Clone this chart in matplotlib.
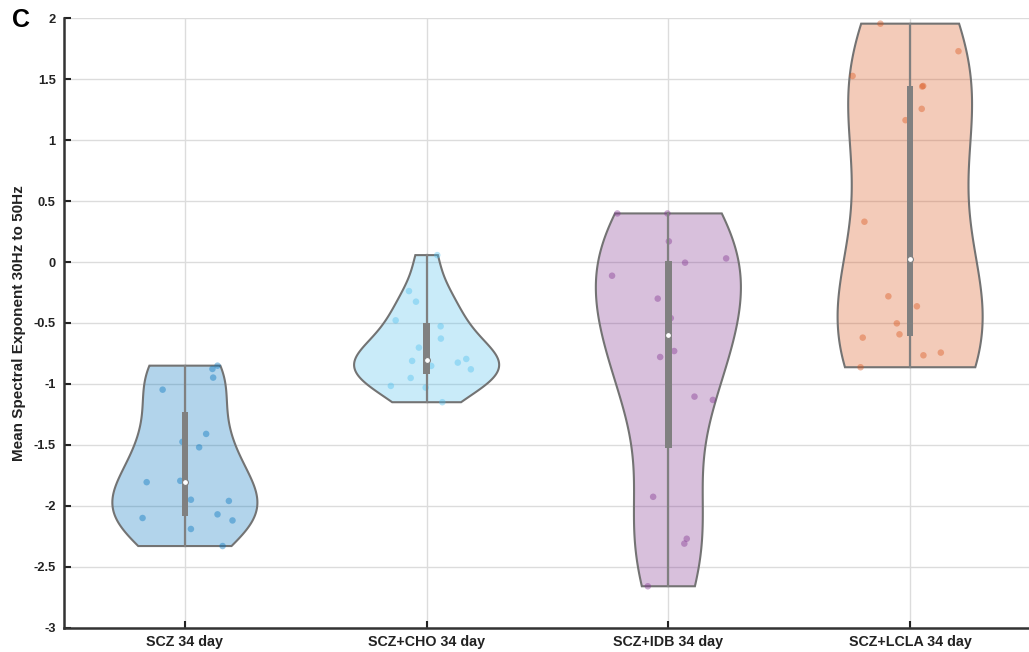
import numpy as np
import matplotlib
matplotlib.use("Agg")
import matplotlib.pyplot as plt
from matplotlib.patches import Rectangle, Polygon

plt.rcParams['font.family'] = ['Liberation Sans', 'DejaVu Sans']

categories = ["SCZ 34 day", "SCZ+CHO 34 day", "SCZ+IDB 34 day", "SCZ+LCLA 34 day"]

scz = [-0.85, -0.877, -0.948, -1.047, -1.41, -1.475, -1.52, -1.795, -1.806,
       -1.95, -1.96, -2.07, -2.10, -2.12, -2.19, -2.33]
scz_cho = [0.057, -0.238, -0.325, -0.478, -0.527, -0.628, -0.702, -0.795, -0.811,
           -0.825, -0.852, -0.880, -0.951, -1.016, -1.03, -1.15]
scz_idb = [0.399, 0.399, 0.17, 0.03, -0.005, -0.112, -0.30, -0.46, -0.73,
           -0.779, -1.104, -1.131, -1.926, -2.27, -2.31, -2.66]
scz_lcla = [1.956, 1.73, 1.527, 1.445, 1.44, 1.257, 1.164, 0.331, -0.281,
            -0.363, -0.503, -0.593, -0.62, -0.743, -0.765, -0.863]

# horizontal jitter of the scatter points (category units)
jit_scz = [0.135, 0.114, 0.117, -0.092, 0.088, -0.010, 0.059, -0.019, -0.158,
           0.025, 0.182, 0.135, -0.175, 0.197, 0.025, 0.156]
jit_cho = [0.044, -0.073, -0.044, -0.128, 0.058, 0.059, -0.032, 0.164, -0.060,
           0.129, 0.019, 0.183, -0.066, -0.148, -0.004, 0.065]
jit_idb = [-0.211, -0.004, 0.002, 0.239, 0.069, -0.233, -0.044, 0.010, 0.024,
           -0.034, 0.108, 0.184, -0.063, 0.076, 0.066, -0.085]
jit_lcla = [-0.123, 0.200, -0.238, 0.054, 0.050, 0.048, -0.019, -0.189, -0.090,
            0.028, -0.055, -0.044, -0.196, 0.127, 0.055, -0.205]

groups = [scz, scz_cho, scz_idb, scz_lcla]
jitters = [jit_scz, jit_cho, jit_idb, jit_lcla]
colors = [(0.0, 0.447, 0.741), (0.301, 0.745, 0.933),
          (0.494, 0.184, 0.556), (0.850, 0.325, 0.098)]

yticks = [-3, -2.5, -2, -1.5, -1, -0.5, 0, 0.5, 1, 1.5, 2]
yticklabels = ["-3", "-2.5", "-2", "-1.5", "-1", "-0.5", "0", "0.5", "1", "1.5", "2"]

W, H = 1029, 652
fig = plt.figure(figsize=(W / 100, H / 100), dpi=100)
ax = fig.add_axes([64 / W, (H - 627.7) / H, 967 / W, (627.7 - 18.3) / H])

gray = (0.5, 0.5, 0.5)
vwidth = 0.3


def kde_matlab(x, grid):
    x = np.asarray(x)
    n = len(x)
    sig = np.median(np.abs(x - np.median(x))) / 0.6745
    bw = sig * (4.0 / (3.0 * n)) ** 0.2
    d = (grid[:, None] - x[None, :]) / bw
    return np.exp(-0.5 * d ** 2).sum(axis=1) / (n * bw * np.sqrt(2 * np.pi))


for i, (vals, jit, c) in enumerate(zip(groups, jitters, colors)):
    pos = i + 1
    v = np.asarray(vals)
    grid = np.linspace(v.min(), v.max(), 200)
    dens = kde_matlab(v, grid)
    dens = dens / dens.max() * vwidth
    xs = np.concatenate([pos + dens, (pos - dens)[::-1]])
    ys = np.concatenate([grid, grid[::-1]])
    ax.add_patch(Polygon(np.column_stack([xs, ys]), closed=True,
                         facecolor=c, alpha=0.3, edgecolor='none', zorder=2))
    ax.add_patch(Polygon(np.column_stack([xs, ys]), closed=True,
                         facecolor='none', edgecolor=(0.45, 0.45, 0.45),
                         linewidth=1.5, zorder=3))
    ax.scatter(pos + np.asarray(jit), v, s=22, color=c, alpha=0.4,
               edgecolors='none', zorder=4)
    q1, med, q3 = np.percentile(v, [25, 50, 75], method='hazen')
    ax.plot([pos, pos], [v.min(), v.max()], color=gray, linewidth=1.6, zorder=5)
    ax.add_patch(Rectangle((pos - 0.013, q1), 0.026, q3 - q1,
                           facecolor=gray, edgecolor='none', zorder=6))
    ax.scatter([pos], [med], s=18, color='white', edgecolors=gray,
               linewidths=0.8, zorder=7)

ax.set_xlim(0.5, 4.5)
ax.set_ylim(-3, 2)
ax.set_xticks([1, 2, 3, 4])
ax.set_xticklabels(categories, fontsize=10.3, fontweight='bold', color='#222222')
ax.set_yticks(yticks)
ax.set_yticklabels(yticklabels, fontsize=9.3, fontweight='bold', color='#222222')
ax.tick_params(direction='in', length=5, width=1.5, color='#222222', pad=6)
ax.tick_params(axis='x', pad=5)
ax.grid(True, color='#dcdcdc', linewidth=1.0, zorder=0)
ax.set_axisbelow(True)
for s in ['top', 'right']:
    ax.spines[s].set_visible(False)
for s in ['left', 'bottom']:
    ax.spines[s].set_linewidth(1.8)
    ax.spines[s].set_color('#333333')
ax.set_ylabel("Mean Spectral Exponent 30Hz to 50Hz", fontsize=11,
              fontweight='bold', color='#222222', labelpad=5)

fig.text(12 / W, 1 - 20 / H, "C", fontsize=18, fontweight='bold',
         va='center', ha='left')

fig.savefig("out.png", dpi=100)
